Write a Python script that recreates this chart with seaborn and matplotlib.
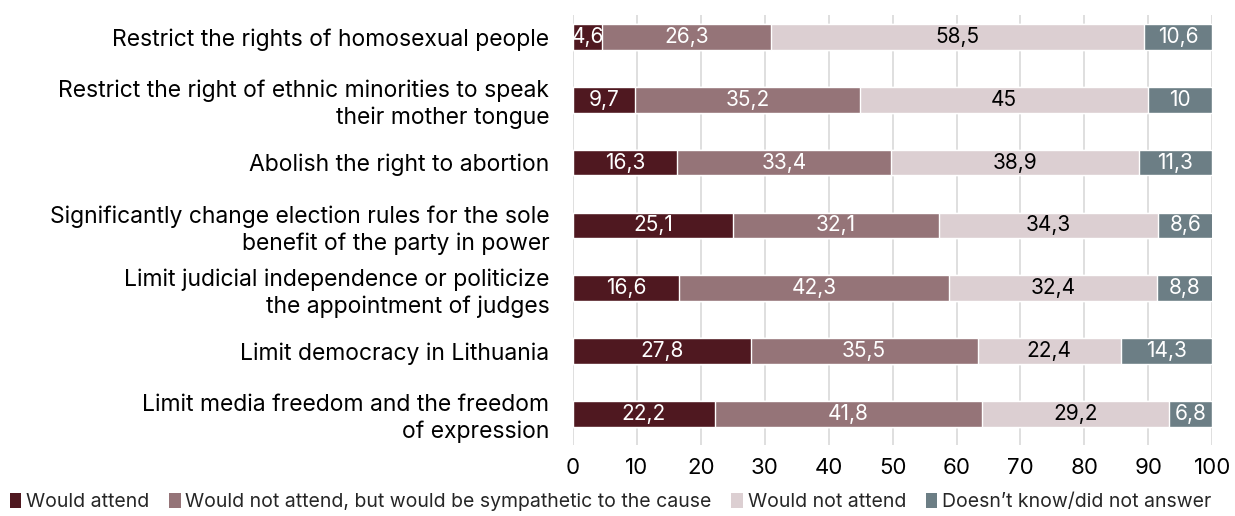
import numpy as np
import pandas as pd
import matplotlib
matplotlib.use("Agg")
import matplotlib.pyplot as plt
import seaborn as sns
from matplotlib.patches import Patch

categories = [
    "Restrict the rights of homosexual people",
    "Restrict the right of ethnic minorities to speak\ntheir mother tongue",
    "Abolish the right to abortion",
    "Significantly change election rules for the sole\nbenefit of the party in power",
    "Limit judicial independence or politicize\nthe appointment of judges",
    "Limit democracy in Lithuania",
    "Limit media freedom and the freedom\nof expression",
]
would_attend = [4.6, 9.7, 16.3, 25.1, 16.6, 27.8, 22.2]
sympathetic = [26.3, 35.2, 33.4, 32.1, 42.3, 35.5, 41.8]
would_not_attend = [58.5, 45, 38.9, 34.3, 32.4, 22.4, 29.2]
dont_know = [10.6, 10, 11.3, 8.6, 8.8, 14.3, 6.8]

series_names = [
    "Would attend",
    "Would not attend, but would be sympathetic to the cause",
    "Would not attend",
    "Doesn\u2019t know/did not answer",
]
series = [would_attend, sympathetic, would_not_attend, dont_know]
colors = ["#4F1820", "#957478", "#DCCFD2", "#6C7E85"]
text_colors = ["white", "white", "black", "white"]

sns.set_theme(style="white")
plt.rcParams["font.family"] = ["Inter", "DejaVu Sans"]

fig = plt.figure(figsize=(12.35, 5.16), dpi=100)
ax = fig.add_axes([0.464, 0.137, 0.5175, 0.834])

vals = np.array(series, dtype=float)
cum = np.cumsum(vals, axis=0)

# Stack by drawing cumulative totals from the outermost segment inward
for i in range(len(series) - 1, -1, -1):
    df = pd.DataFrame({"category": categories, "value": cum[i]})
    sns.barplot(data=df, x="value", y="category", orient="h", color=colors[i],
                saturation=1, width=0.41, ax=ax, zorder=2)

for i, s in enumerate(series):
    starts = cum[i] - vals[i]
    for j, v in enumerate(s):
        label = f"{v:g}".replace(".", ",")
        ax.text(starts[j] + v / 2, j, label, ha="center", va="center",
                color=text_colors[i], fontsize=15, zorder=3)

ax.set_xlim(0, 100)
ax.set_ylim(6.5, -0.35)
ax.set_xticks(range(0, 101, 10))
ax.xaxis.grid(True, color="#D9D9D9", linewidth=1.2, zorder=0)
ax.set_axisbelow(True)
for sp in ax.spines.values():
    sp.set_visible(False)
ax.set_xlabel("")
ax.set_ylabel("")
ax.tick_params(axis="x", labelsize=16, length=0, pad=9, colors="black")
ax.tick_params(axis="y", labelsize=16.5, length=0, pad=17, colors="black")
for lbl in ax.get_yticklabels():
    lbl.set_horizontalalignment("right")
    lbl.set_multialignment("right")
    lbl.set_linespacing(1.25)

handles = [Patch(facecolor=c, edgecolor="none") for c in colors]
fig.legend(handles, series_names, loc="lower left", bbox_to_anchor=(0.0, -0.01),
           ncol=4, frameon=False, fontsize=14, handlelength=0.6, handleheight=0.8,
           handletextpad=0.25, columnspacing=1.0, borderaxespad=0.1)

fig.savefig("out.png", dpi=100)
